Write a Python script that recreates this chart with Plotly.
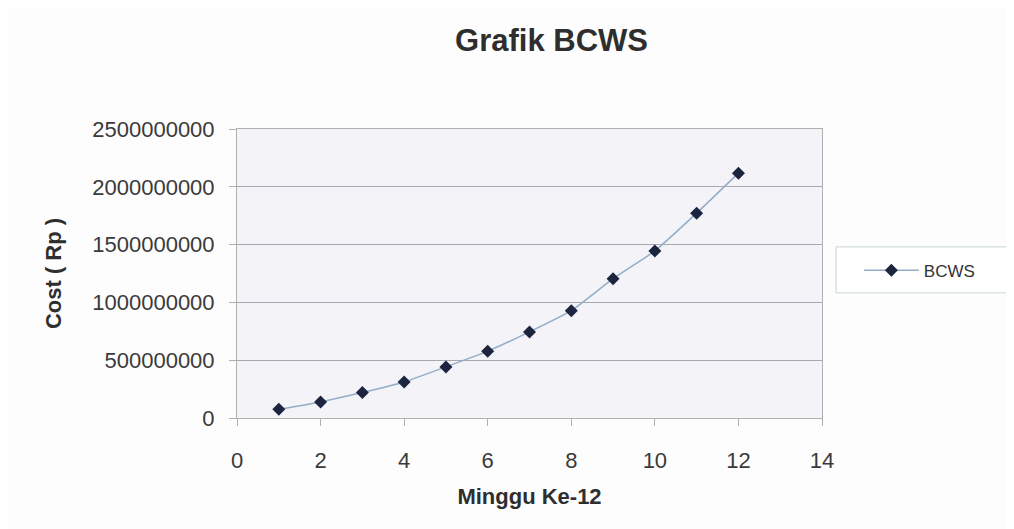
import plotly.graph_objects as go

weeks = [1, 2, 3, 4, 5, 6, 7, 8, 9, 10, 11, 12]
bcws = [75e6, 139e6, 220e6, 312e6, 442e6, 578e6, 745e6, 928e6, 1205e6, 1445e6, 1772e6, 2118e6]
y_ticks = [0, 500000000, 1000000000, 1500000000, 2000000000, 2500000000]
x_ticks = [0, 2, 4, 6, 8, 10, 12, 14]

fig = go.Figure()
fig.add_trace(go.Scatter(
    x=weeks, y=bcws, mode="lines+markers", name="BCWS",
    line=dict(color="#93adc8", width=1.5, shape="spline", smoothing=0.4),
    marker=dict(symbol="diamond", size=10, color="#1c2440"),
))

font = "Arial, Liberation Sans, sans-serif"
fig.update_layout(
    width=1014, height=529,
    margin=dict(l=229, r=200, t=121, b=119),
    paper_bgcolor="#fdfdfd",
    plot_bgcolor="#f3f3f8",
    font=dict(family=font, size=22, color="#3a3a3a"),
    title=dict(text="<b>Grafik BCWS</b>", x=0.536, xanchor="center", y=0.94, yanchor="middle",
               font=dict(size=31, color="#2e2e2e", family=font)),
    showlegend=True,
    legend=dict(x=1.063, y=0.51, xanchor="left", yanchor="middle",
                borderwidth=0, bgcolor="rgba(0,0,0,0)",
                font=dict(size=17, color="#333333"), itemwidth=55),
    shapes=[dict(type="rect", xref="paper", yref="paper",
                 x0=1.024, x1=1.321, y0=0.433, y1=0.592,
                 line=dict(color="#c8d4d4", width=1), fillcolor="#ffffff", layer="below")],
)
fig.update_xaxes(
    range=[0, 14], tickvals=x_ticks, ticktext=[str(v) for v in x_ticks],
    showgrid=False, zeroline=False, showline=True, linecolor="#b0b0b0", mirror=True,
    ticks="outside", ticklen=7, tickcolor="#b0b0b0", ticklabelstandoff=16,
    title=dict(text="<b>Minggu Ke-12</b>", font=dict(size=22, color="#2e2e2e"), standoff=16),
)
fig.update_yaxes(
    range=[0, 2500000000], tickvals=y_ticks, ticktext=[str(v) for v in y_ticks],
    showgrid=True, gridcolor="#a8a8b0", gridwidth=1, zeroline=False,
    showline=True, linecolor="#b0b0b0", mirror=True,
    ticks="outside", ticklen=7, tickcolor="#b0b0b0", ticklabelstandoff=10,
    title=dict(text="<b>Cost ( Rp )</b>", font=dict(size=22, color="#2e2e2e"), standoff=24),
)
fig.write_html("out.html")
